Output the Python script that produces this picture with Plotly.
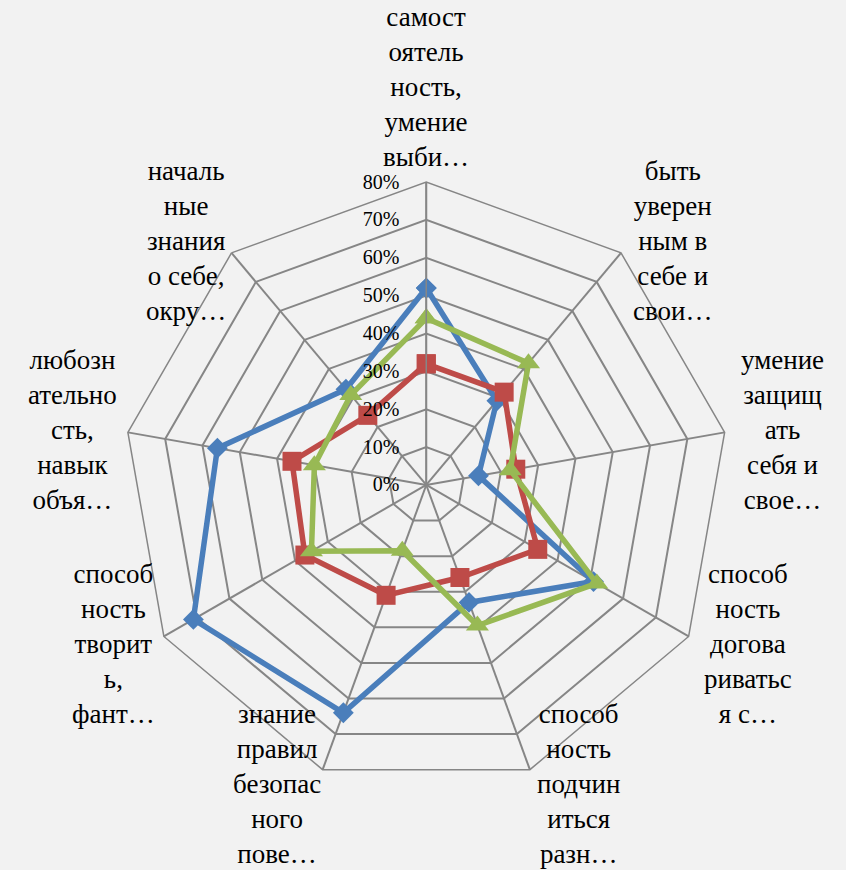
import math
import plotly.graph_objects as go

categories = [
    "самост<br>оятель<br>ность,<br>умение<br>выби…",
    "быть<br>уверен<br>ным в<br>себе и<br>свои…",
    "умение<br>защищ<br>ать<br>себя и<br>свое…",
    "способ<br>ность<br>догова<br>риватьс<br>я с…",
    "способ<br>ность<br>подчин<br>иться<br>разн…",
    "знание<br>правил<br>безопас<br>ного<br>пове…",
    "способ<br>ность<br>творит<br>ь,<br>фант…",
    "любозн<br>ательно<br>сть,<br>навык<br>объя…",
    "началь<br>ные<br>знания<br>о себе,<br>окру…",
]

# values in percent
series_blue = [52, 29, 14, 51, 33, 64, 71, 56, 33]
series_red = [32, 32, 24, 34, 26, 31, 37, 36, 24]
series_green = [44, 42, 22.5, 52, 39.5, 18.5, 35, 30, 31]

tick_vals = [0, 0.1, 0.2, 0.3, 0.4, 0.5, 0.6, 0.7, 0.8]

W, H = 846, 870
dom_x = [0.1457, 0.862]
dom_y = [0.0943, 0.7908]

fig = go.Figure()


def add_series(values, name, color, symbol, size):
    r = [v / 100 for v in values]
    fig.add_trace(go.Scatterpolar(
        r=r + r[:1],
        theta=categories + categories[:1],
        mode='lines+markers',
        name=name,
        line=dict(color=color, width=5.5),
        marker=dict(symbol=symbol, size=size, color=color),
    ))


add_series(series_blue, 'Ряд 1', '#4A7EBB', 'diamond', 16)
add_series(series_red, 'Ряд 2', '#BE4B48', 'square', 19)
add_series(series_green, 'Ряд 3', '#98B954', 'triangle-up', 20)

# category labels placed outside each spoke, centred text like Excel
cx = (dom_x[0] + dom_x[1]) / 2 * W
cy = (1 - (dom_y[0] + dom_y[1]) / 2) * H
R = (dom_x[1] - dom_x[0]) / 2 * W
n = len(categories)
for i, label in enumerate(categories):
    ang = 2 * math.pi * i / n
    s = math.sin(ang)
    d = R + (8 if abs(s) < 1e-6 else 15)
    px = cx + d * s
    py = cy - d * math.cos(ang)
    if abs(s) < 1e-6:
        xa, ya = 'center', 'bottom'
    elif s > 0:
        xa, ya = 'left', 'middle'
    else:
        xa, ya = 'right', 'middle'
        px += 6
    fig.add_annotation(
        x=px / W, y=1 - py / H, xref='paper', yref='paper',
        text=label, showarrow=False, align='center',
        xanchor=xa, yanchor=ya,
        font=dict(size=27, family='Liberation Serif', color='black'),
    )

fig.update_layout(
    width=W,
    height=H,
    margin=dict(l=0, r=0, t=0, b=0),
    paper_bgcolor='#F2F2F2',
    showlegend=False,
    font=dict(family='Liberation Serif', color='black'),
    polar=dict(
        domain=dict(x=dom_x, y=dom_y),
        bgcolor='#F2F2F2',
        gridshape='linear',
        radialaxis=dict(
            range=[0, 0.8],
            tickvals=tick_vals,
            tickformat='.0%',
            angle=90,
            tickangle=90,
            side='counterclockwise',
            showline=True,
            linecolor='#868686',
            linewidth=1.5,
            gridcolor='#868686',
            gridwidth=1.5,
            ticks='outside',
            ticklen=19,
            tickcolor='rgba(0,0,0,0)',
            tickfont=dict(size=20, family='Liberation Serif', color='black'),
        ),
        angularaxis=dict(
            direction='clockwise',
            rotation=90,
            showline=True,
            showticklabels=False,
            linecolor='#868686',
            linewidth=1.5,
            gridcolor='#868686',
            gridwidth=1.5,
            ticks='',
        ),
    ),
)

fig.write_html("out.html", config={'displayModeBar': False},
               post_script="document.body.style.margin='0';")
